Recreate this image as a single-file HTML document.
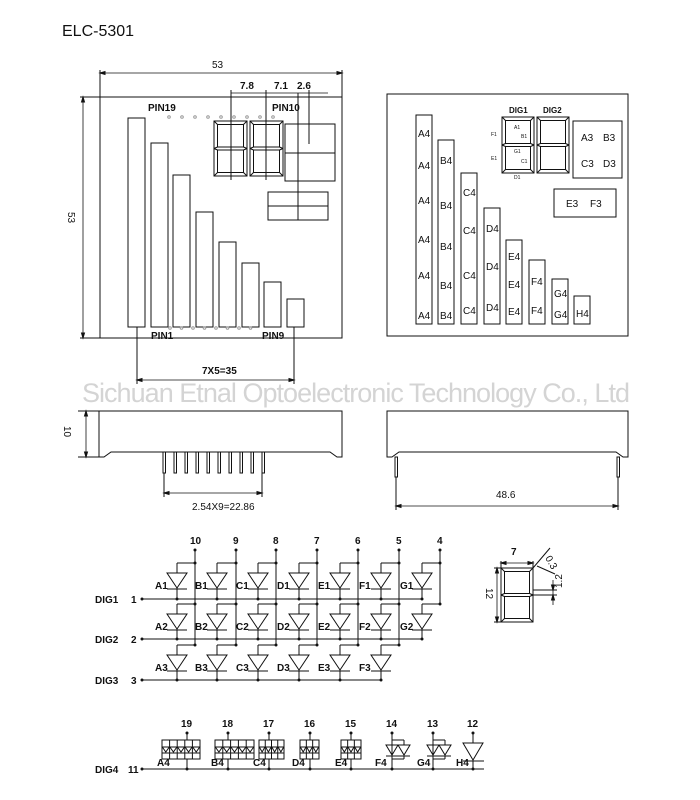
<!DOCTYPE html>
<html><head><meta charset="utf-8"><style>
html,body{margin:0;padding:0;background:#fff;width:700px;height:800px;overflow:hidden}
svg{display:block}
text{font-family:"Liberation Sans",sans-serif;fill:#111}
.s{font-size:10px;font-weight:bold}
.m{font-size:10px}
</style></head><body>
<svg id="g" width="700" height="800" viewBox="0 0 700 800" xmlns="http://www.w3.org/2000/svg" stroke="#111" stroke-width="1" fill="none">
<text x="62" y="36" style="font-size:16px" stroke="none">ELC-5301</text>
<text x="82" y="402" style="font-size:27px;fill:#d4d4d4" stroke="none" textLength="548">Sichuan Etnal Optoelectronic Technology Co., Ltd</text>
<g stroke="none">
<text x="212" y="68" class="m">53</text>
<text x="0" y="0" class="m" transform="translate(68,212) rotate(90)">53</text>
<text x="240" y="89" class="s">7.8</text>
<text x="274" y="89" class="s">7.1</text>
<text x="297" y="89" class="s">2.6</text>
<text x="148" y="111" class="s">PIN19</text>
<text x="272" y="111" class="s">PIN10</text>
<text x="151" y="339" class="s">PIN1</text>
<text x="262" y="339" class="s">PIN9</text>
<text x="202" y="374" class="s">7X5=35</text>
<text x="0" y="0" class="m" transform="translate(64,426) rotate(90)">10</text>
<text x="192" y="510" class="m">2.54X9=22.86</text>
<text x="496" y="498" class="m">48.6</text>
<text x="509" y="113" class="s" style="font-size:8px">DIG1</text>
<text x="543" y="113" class="s" style="font-size:8px">DIG2</text>
<text x="514" y="129" style="font-size:5px">A1</text>
<text x="521" y="138" style="font-size:5px">B1</text>
<text x="491" y="136" style="font-size:5px">F1</text>
<text x="514" y="153" style="font-size:5px">G1</text>
<text x="491" y="160" style="font-size:5px">E1</text>
<text x="521" y="163" style="font-size:5px">C1</text>
<text x="514" y="179" style="font-size:5px">D1</text>
<text x="581" y="141" class="m">A3</text><text x="603" y="141" class="m">B3</text>
<text x="581" y="167" class="m">C3</text><text x="603" y="167" class="m">D3</text>
<text x="566" y="207" class="m">E3</text><text x="590" y="207" class="m">F3</text>
<text x="511" y="555" class="s">7</text>
<text x="0" y="0" class="m" transform="translate(486,588) rotate(90)">12</text>
<text x="0" y="0" class="m" transform="translate(545,558) rotate(60)">0.3</text>
<text x="0" y="0" class="m" transform="translate(562,588) rotate(-90)">1.2</text>
</g>
<g id="dyn"></g>
</svg>
<script>
var d=document.getElementById('dyn'),NS="http://www.w3.org/2000/svg";
function el(t,a){var e=document.createElementNS(NS,t);for(var k in a)e.setAttribute(k,a[k]);d.appendChild(e);return e}
function L(x1,y1,x2,y2,w){el('line',{x1:x1,y1:y1,x2:x2,y2:y2,'stroke-width':w||1})}
function R(x,y,w,h){el('rect',{x:x,y:y,width:w,height:h})}
function P(p,f){el('path',{d:p,fill:f||'none'})}
function dot(x,y){el('circle',{cx:x,cy:y,r:1.5,fill:'#111',stroke:'none'})}
function odot(x,y){el('circle',{cx:x,cy:y,r:1.3,stroke:'#999'})}
function arr(x1,y,x2){L(x1,y,x2,y,0.8);P('M'+x1+','+y+'l5,-1.5v3z','#111');P('M'+x2+','+y+'l-5,-1.5v3z','#111')}
function varr(x,y1,y2){L(x,y1,x,y2,0.8);P('M'+x+','+y1+'l-1.5,5h3z','#111');P('M'+x+','+y2+'l-1.5,-5h3z','#111')}
function digit(x,y,w,h){var m=y+h/2,i=3.5;
 R(x,y,w,h);R(x+i,y+i,w-2*i,h/2-i-1.5);R(x+i,m+1.5,w-2*i,h/2-i-1.5);
 L(x,y,x+i,y+i);L(x+w,y,x+w-i,y+i);L(x,y+h,x+i,y+h-i);L(x+w,y+h,x+w-i,y+h-i);
 L(x,m,x+i,m-1.5);L(x,m,x+i,m+1.5);L(x+w,m,x+w-i,m-1.5);L(x+w,m,x+w-i,m+1.5);}
// front view
R(100,97,242,241);
arr(100,73,342);L(100,70,100,97);L(342,70,342,97);
varr(83,97,338);L(80,97,100,97);L(80,338,100,338);
L(231,93,328,93,0.8);L(231,90,231,180);L(266,90,266,180);L(309,90,309,144);L(298,93,298,220);
var bars=[[128,118],[151,143],[173,175],[196,212],[219,242],[242,263],[264,282],[287,299]];
bars.forEach(function(b){R(b[0],b[1],17,327-b[1])});
for(var i=0;i<9;i++)odot(169+i*13,117);
for(var i=0;i<8;i++)odot(170+i*11.5,328);
digit(214,121,33,55);digit(250,121,33,55);
R(285,124,50,57);L(285,153,335,153);
R(268,192,60,28);L(268,206,328,206);
L(137,327,137,384);L(294,327,294,384);arr(137,380,294);
// top-right view
R(387,94,241,242);
var rb=[[416,115,[133,165,200,239,275,315],'A4'],[438,140,[160,205,246,285,315],'B4'],[461,173,[192,230,275,310],'C4'],[484,208,[228,266,307],'D4'],[506,240,[256,284,311],'E4'],[529,260,[281,310],'F4'],[552,279,[293,314],'G4'],[574,296,[313],'H4']];
rb.forEach(function(b){R(b[0],b[1],16,324-b[1]);b[2].forEach(function(y){var t=el('text',{x:b[0]+2,y:y+4,'class':'m',stroke:'none'});t.textContent=b[3];});});
digit(502,117,32,56);digit(537,117,32,56);
R(573,121,49,57);R(554,189,62,28);
// side views
function body(x1,x2){P('M'+x1+',411H'+x2+'V457H'+(x2-5)+'L'+(x2-12)+',452H'+(x1+12)+'L'+(x1+5)+',457H'+x1+'Z');}
body(99,342);
for(var i=0;i<10;i++){R(163+i*11,452,2.5,21);}
L(164,473,164,497);L(262,473,262,497);arr(164,493,262);
L(78,411,99,411);L(78,457,99,457);varr(86,411,457);
body(387,628);R(395,457,2.5,20);R(617,457,2.5,20);
L(396,477,396,510);L(618,477,618,510);arr(396,506,618);
// small digit
digit(501,568,32,54);L(501,561,501,568);L(533,561,533,568);arr(501,563,533);
L(494,568,501,568);L(494,622,501,622);varr(497,568,622);
L(533,568,550,548);L(537,566,555,574);
L(533,590,557,590);L(533,595,557,595);P('M553,590l-1.5,-5h3z','#111');P('M553,595l-1.5,5h3z','#111');L(553,580,553,605,0.8);
// schematic
function tri(cx,top,hw,h){P('M'+(cx-hw)+','+top+'H'+(cx+hw)+'L'+cx+','+(top+h)+'Z');L(cx-hw,top+h+1,cx+hw,top+h+1);}
var px=[195,236,276,317,358,399,440],dx=[177,217,258,299,340,381,422],pn=['10','9','8','7','6','5','4'],sg='ABCDEFG';
var tops=[563,604,645],bus=[599,639,680];
for(var c=0;c<7;c++){var t=el('text',{x:px[c]-(c==0?5:3),y:544,'class':'s',stroke:'none'});t.textContent=pn[c];dot(px[c],550);
 var nr=c==6?2:3;L(px[c],550,px[c],tops[nr-1]);
 for(var r=0;r<nr;r++){var y=tops[r];L(dx[c],y,px[c],y);dot(px[c],y);L(dx[c],y,dx[c],y+10);tri(dx[c],y+10,10,15);L(dx[c],y+25,dx[c],bus[r]);dot(dx[c],bus[r]);
  var tt=el('text',{x:dx[c]-22,y:y+26,'class':'s',stroke:'none'});tt.textContent=sg[c]+(r+1);}}
['DIG1','DIG2','DIG3'].forEach(function(n,r){var t=el('text',{x:95,y:bus[r]+4,'class':'s',stroke:'none'});t.textContent=n;
 var t2=el('text',{x:131,y:bus[r]+4,'class':'s',stroke:'none'});t2.textContent=(r+1);dot(142,bus[r]);L(142,bus[r],r==2?381:422,bus[r]);});
// DIG4
var t=el('text',{x:95,y:773,'class':'s',stroke:'none'});t.textContent='DIG4';
t=el('text',{x:128,y:773,'class':'s',stroke:'none'});t.textContent='11';
dot(142,769);L(142,769,484,769);
var g4=[[187,162,200,5,'19','A4',157],[228,215,254,5,'18','B4',211],[269,259,284,4,'17','C4',253],[310,300,319,3,'16','D4',292],[351,341,361,3,'15','E4',335]];
g4.forEach(function(g){var x=g[0];var tx=el('text',{x:x-6,y:727,'class':'s',stroke:'none'});tx.textContent=g[4];dot(x,733);L(x,733,x,740);
 R(g[1],740,g[2]-g[1],19);L(g[1],747,g[2],747);var p=(g[2]-g[1])/g[3];
 for(var k=0;k<g[3];k++){var cx=g[1]+p*(k+.5);tri(cx,747,p/2-0.3,5);if(k>0)L(g[1]+p*k,740,g[1]+p*k,759);}
 L(x,759,x,769);dot(x,769);var lb=el('text',{x:g[6],y:766,'class':'s',stroke:'none'});lb.textContent=g[5];});
var g5=[[392,386,410,'14','F4',375],[433,427,451,'13','G4',417]];
g5.forEach(function(g){var x=g[0];var tx=el('text',{x:x-6,y:727,'class':'s',stroke:'none'});tx.textContent=g[3];dot(x,733);L(x,733,x,769);dot(x,769);
 L(g[1]+6,740,g[2]-6,740);L(g[1]+6,740,g[1]+6,745);L(g[2]-6,740,g[2]-6,745);tri(g[1]+6,745,6,10);tri(g[2]-6,745,6,10);L(g[1]+6,756,g[1]+6,759);L(g[2]-6,756,g[2]-6,759);L(g[1]+6,759,g[2]-6,759);
 var lb=el('text',{x:g[5],y:766,'class':'s',stroke:'none'});lb.textContent=g[4];});
tx=el('text',{x:467,y:727,'class':'s',stroke:'none'});tx.textContent='12';dot(473,733);L(473,733,473,743);tri(473,743,10,17);L(473,760,473,769);dot(473,769);L(473,761,484,761);
tx=el('text',{x:456,y:766,'class':'s',stroke:'none'});tx.textContent='H4';
</script>
</body></html>
